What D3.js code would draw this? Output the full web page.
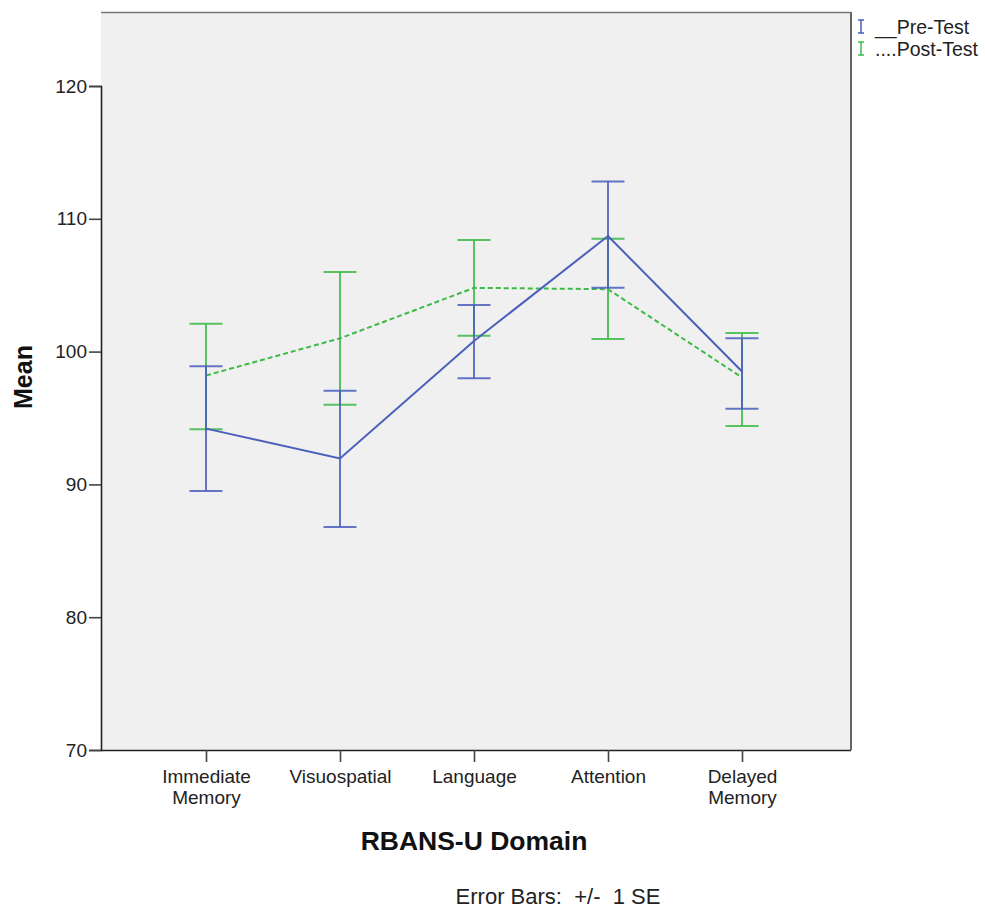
<!DOCTYPE html>
<html>
<head>
<meta charset="utf-8">
<script src="https://cdn.jsdelivr.net/npm/d3@7"></script>
<style>
  body { margin: 0; background: #fff; }
  svg { font-family: "Liberation Sans", Arial, sans-serif; }
</style>
</head>
<body>
<svg id="chart" width="985" height="912"></svg>
<script>
const DOMAINS = ["Immediate Memory", "Visuospatial", "Language", "Attention", "Delayed Memory"];
const PRE_MEAN = [94.2, 91.95, 100.8, 108.7, 98.5];
const PRE_LOW = [89.5, 86.8, 98.0, 104.8, 95.7];
const PRE_HIGH = [98.9, 97.05, 103.5, 112.8, 101.0];
const POST_MEAN = [98.2, 101.0, 104.8, 104.7, 98.05];
const POST_LOW = [94.15, 96.0, 101.2, 100.95, 94.4];
const POST_HIGH = [102.1, 106.0, 108.4, 108.5, 101.4];
const Y_TICKS = [70, 80, 90, 100, 110, 120];

const SVG = d3.select("#chart");
const PLOT = { left: 101, right: 851, top: 12, bottom: 750 };
const BLUE = "#4b5fbd";
const GREEN = "#3dba48";

const SCALE_X = d3.scalePoint()
  .domain(DOMAINS)
  .range([206, 742]);

const SCALE_Y = d3.scaleLinear()
  .domain([70, 120])
  .range([PLOT.bottom, 86]);

// background panel
SVG.append("rect")
  .attr("x", PLOT.left)
  .attr("y", PLOT.top)
  .attr("width", PLOT.right - PLOT.left)
  .attr("height", PLOT.bottom - PLOT.top)
  .attr("fill", "#f0f0f0");

SVG.append("line")
  .attr("x1", PLOT.left).attr("x2", PLOT.right)
  .attr("y1", PLOT.top + 0.5).attr("y2", PLOT.top + 0.5)
  .attr("stroke", "#777").attr("stroke-width", 1.5);
SVG.append("line")
  .attr("x1", PLOT.right).attr("x2", PLOT.right)
  .attr("y1", PLOT.top).attr("y2", PLOT.bottom)
  .attr("stroke", "#666").attr("stroke-width", 2);

// axes
const yAxis = SVG.append("g")
  .attr("transform", `translate(${PLOT.left},0)`)
  .call(d3.axisLeft(SCALE_Y).tickValues(Y_TICKS).tickSize(12).tickPadding(2));
yAxis.select(".domain").attr("stroke", "#222").attr("stroke-width", 1.6);
yAxis.selectAll(".tick line").attr("stroke", "#444").attr("stroke-width", 1.6);
yAxis.selectAll("text").attr("font-size", 19).attr("fill", "#222");

const xAxis = SVG.append("g")
  .attr("transform", `translate(0,${PLOT.bottom})`)
  .call(d3.axisBottom(SCALE_X).tickSize(12).tickSizeOuter(0).tickFormat(""));
xAxis.select(".domain")
  .attr("d", `M${PLOT.left},0.5H${PLOT.right}`)
  .attr("stroke", "#222").attr("stroke-width", 1.6);
xAxis.selectAll(".tick line").attr("stroke", "#444").attr("stroke-width", 1.6);

xAxis.selectAll(".tick").each(function (d) {
  const words = d.split(" ");
  const t = d3.select(this).append("text")
    .attr("text-anchor", "middle")
    .attr("font-size", 19)
    .attr("fill", "#222");
  words.forEach((w, i) => {
    t.append("tspan").attr("x", 0).attr("y", 33 + i * 21).text(w);
  });
});

function drawSeries(mean, low, high, color, dash) {
  const g = SVG.append("g");
  const pts = DOMAINS.map((d, i) => ({ d, m: mean[i], lo: low[i], hi: high[i] }));

  g.selectAll("line.bar").data(pts).enter().append("line")
    .attr("x1", p => SCALE_X(p.d)).attr("x2", p => SCALE_X(p.d))
    .attr("y1", p => SCALE_Y(p.lo)).attr("y2", p => SCALE_Y(p.hi))
    .attr("stroke", color).attr("stroke-width", 2).attr("opacity", 0.85);

  ["lo", "hi"].forEach(k => {
    g.selectAll("line.cap-" + k).data(pts).enter().append("line")
      .attr("x1", p => SCALE_X(p.d) - 16.5).attr("x2", p => SCALE_X(p.d) + 16.5)
      .attr("y1", p => SCALE_Y(p[k])).attr("y2", p => SCALE_Y(p[k]))
      .attr("stroke", color).attr("stroke-width", 2).attr("opacity", 0.85);
  });

  g.append("path")
    .datum(pts)
    .attr("fill", "none")
    .attr("stroke", color)
    .attr("stroke-width", 2)
    .attr("stroke-dasharray", dash)
    .attr("d", d3.line().x(p => SCALE_X(p.d)).y(p => SCALE_Y(p.m)));
}

drawSeries(POST_MEAN, POST_LOW, POST_HIGH, GREEN, "5,3");
drawSeries(PRE_MEAN, PRE_LOW, PRE_HIGH, BLUE, null);

// axis titles
SVG.append("text")
  .attr("transform", "translate(32,377) rotate(-90)")
  .attr("text-anchor", "middle")
  .attr("font-size", 25).attr("font-weight", "bold").attr("fill", "#111")
  .text("Mean");

SVG.append("text")
  .attr("x", 474).attr("y", 850)
  .attr("text-anchor", "middle")
  .attr("font-size", 26.5).attr("font-weight", "bold").attr("fill", "#111")
  .text("RBANS-U Domain");

SVG.append("text")
  .attr("x", 558).attr("y", 904)
  .attr("text-anchor", "middle")
  .attr("font-size", 22).attr("fill", "#222")
  .style("white-space", "pre")
  .text("Error Bars:  +/-  1 SE");

// legend
const LEGEND = [
  { label: "__Pre-Test", color: BLUE },
  { label: "....Post-Test", color: GREEN }
];
const leg = SVG.selectAll("g.legend").data(LEGEND).enter().append("g")
  .attr("class", "legend")
  .attr("transform", (d, i) => `translate(861,${27 + i * 22})`);
leg.append("path")
  .attr("d", "M-3,-7H3M0,-7V6M-3,6H3")
  .attr("stroke", d => d.color).attr("stroke-width", 1.5).attr("fill", "none");
leg.append("text")
  .attr("x", 14).attr("y", 7)
  .attr("font-size", 19.5).attr("fill", "#222")
  .text(d => d.label);
</script>
</body>
</html>
